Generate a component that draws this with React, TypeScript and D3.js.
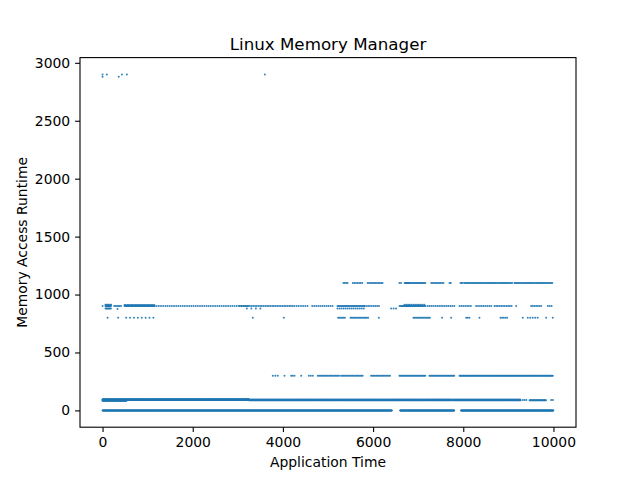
import { useEffect, useRef } from 'react';
import * as d3 from 'd3';

// Each run: [fromTime, toTime, runtime, step]
const runs0: number[][] = [
  [0, 6420, 0, 8], [6600, 7800, 0, 8], [7950, 10000, 0, 8],
];

const runs90: number[][] = [
  [0, 3250, 94, 6], [0, 3250, 89, 6], [0, 530, 84, 10],
  [3250, 7730, 88, 14], [3150, 7730, 93, 26],
  [7760, 9280, 88, 14], [7760, 9280, 93, 30],
  [9320, 9400, 90, 40], [9470, 9840, 88, 14], [9950, 9990, 90, 40],
];

const runs300: number[][] = [
  [3776, 3887, 300, 55], [4035, 4035, 300, 1], [4183, 4257, 300, 37],
  [4405, 4405, 300, 1], [4575, 4663, 300, 44], [4774, 5255, 300, 28],
  [5292, 5771, 300, 28], [5955, 6400, 300, 28], [6585, 7175, 300, 22],
  [7250, 7805, 300, 22], [7916, 10000, 300, 18],
];

const runs800: number[][] = [
  [111, 111, 800, 1], [347, 347, 800, 1], [525, 1130, 800, 86],
  [3333, 3333, 800, 1], [4020, 4020, 800, 1], [5225, 5390, 800, 30],
  [5500, 5905, 800, 28], [6127, 6127, 800, 1], [6896, 7287, 800, 28],
  [7530, 7530, 800, 1], [7730, 7730, 800, 1], [8064, 8137, 800, 36],
  [8359, 8359, 800, 1], [8825, 8973, 800, 37], [9320, 9320, 800, 1],
  [9430, 9652, 800, 55], [9837, 9837, 800, 1], [9985, 9985, 800, 1],
];

const runs900: number[][] = [
  [0, 0, 900, 1], [66, 193, 900, 12], [66, 193, 880, 20], [66, 193, 912, 25],
  [260, 437, 900, 30], [330, 330, 875, 1], [488, 1153, 900, 15], [488, 1153, 910, 30],
  [1153, 3260, 900, 48], [3040, 4220, 900, 38], [3200, 3500, 880, 100],
  [4257, 4590, 900, 48], [4650, 5144, 900, 45], [5210, 5810, 900, 22],
  [5210, 5810, 880, 45], [5810, 6140, 900, 40], [6400, 6510, 880, 55],
  [6585, 6660, 900, 35], [6620, 6800, 900, 30], [6696, 7175, 900, 18],
  [6696, 7175, 912, 40], [7213, 7840, 900, 42], [7916, 8174, 900, 42],
  [8285, 8655, 900, 42], [8692, 9098, 900, 38], [9172, 9172, 900, 1],
  [9505, 9727, 900, 37], [9875, 10000, 900, 42],
];

const runs1100: number[][] = [
  [5343, 5460, 1100, 30], [5550, 5760, 1100, 35], [5880, 6230, 1100, 30],
  [6585, 6620, 1100, 35], [6700, 6800, 1100, 30], [6718, 7175, 1100, 22],
  [7290, 7583, 1100, 30], [7694, 7753, 1100, 30], [7938, 7990, 1100, 26],
  [8027, 9098, 1100, 24], [9135, 9985, 1100, 24],
];

const runs2900: number[][] = [
  [0, 0, 2900, 1], [0, 0, 2880, 1], [95, 95, 2900, 1], [360, 360, 2880, 1],
  [430, 430, 2900, 1], [540, 540, 2900, 1], [3600, 3600, 2900, 1],
];

const xTicks = [0, 2000, 4000, 6000, 8000, 10000];
const yTicks = [0, 500, 1000, 1500, 2000, 2500, 3000];

function expand(runs: number[][]) {
  const pts: [number, number][] = [];
  runs.forEach(([from, to, v, step]) => {
    for (let t = from; t <= to; t += step) pts.push([t, v]);
  });
  return pts;
}

export default function App() {
  const svgRef = useRef<SVGSVGElement>(null);

  useEffect(() => {
    if (!svgRef.current) return;
    d3.select(svgRef.current).selectAll('*').remove();

    const left = 80, right = 576, top = 57.6, bottom = 427.2;
    const font = 'DejaVu Sans, sans-serif';

    const svg = d3.select(svgRef.current)
      .attr('width', 640)
      .attr('height', 480);

    svg.append('rect').attr('width', 640).attr('height', 480).attr('fill', '#fff');

    const x = d3.scaleLinear().domain([-500, 10500]).range([left, right]);
    const y = d3.scaleLinear().domain([-145, 3045]).range([bottom, top]);

    const points = [runs0, runs90, runs300, runs800, runs900, runs1100, runs2900]
      .flatMap(expand);

    svg.append('g')
      .selectAll('circle')
      .data(points)
      .enter()
      .append('circle')
      .attr('cx', d => x(d[0]))
      .attr('cy', d => y(d[1]))
      .attr('r', 1)
      .attr('fill', '#1f77b4')
      .attr('fill-opacity', 0.9);

    // Axes
    const xAxis = svg.append('g')
      .attr('transform', `translate(0,${bottom})`)
      .call(d3.axisBottom(x).tickValues(xTicks).tickSize(4.9).tickPadding(4.9).tickFormat(d3.format('d')));
    const yAxis = svg.append('g')
      .attr('transform', `translate(${left},0)`)
      .call(d3.axisLeft(y).tickValues(yTicks).tickSize(4.9).tickPadding(4.9).tickFormat(d3.format('d')));

    [xAxis, yAxis].forEach(g => {
      g.select('.domain').remove();
      g.selectAll('line').attr('stroke', '#000').attr('stroke-width', 1.1);
      g.selectAll('text').attr('fill', '#000').attr('font-family', font).attr('font-size', '13.9px');
    });

    // Frame
    svg.append('rect')
      .attr('x', left)
      .attr('y', top)
      .attr('width', right - left)
      .attr('height', bottom - top)
      .attr('fill', 'none')
      .attr('stroke', '#000')
      .attr('stroke-width', 1.1);

    // Labels
    svg.append('text')
      .attr('x', (left + right) / 2)
      .attr('y', 49.5)
      .attr('text-anchor', 'middle')
      .attr('font-family', font)
      .attr('font-size', '16.7px')
      .text('Linux Memory Manager');

    svg.append('text')
      .attr('x', (left + right) / 2)
      .attr('y', 467)
      .attr('text-anchor', 'middle')
      .attr('font-family', font)
      .attr('font-size', '13.9px')
      .text('Application Time');

    svg.append('text')
      .attr('transform', `translate(26.5,${(top + bottom) / 2}) rotate(-90)`)
      .attr('text-anchor', 'middle')
      .attr('font-family', font)
      .attr('font-size', '13.9px')
      .text('Memory Access Runtime');
  }, []);

  return <svg ref={svgRef} style={{ position: 'absolute', left: 0, top: 0, display: 'block' }} />;
}
